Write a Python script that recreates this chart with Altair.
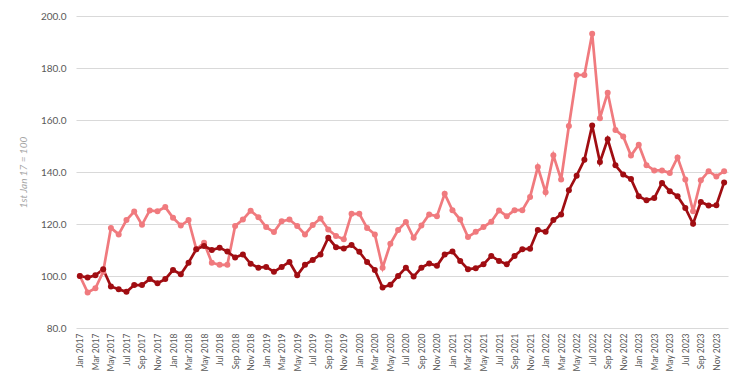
import altair as alt
import pandas as pd

months = [f"{m} {y}" for y in range(2017, 2024)
          for m in ["Jan", "Feb", "Mar", "Apr", "May", "Jun", "Jul", "Aug", "Sep", "Oct", "Nov", "Dec"]]

light = [100.0, 93.7, 95.3, 101.6, 118.5, 116.0, 121.5, 124.8, 119.7, 125.2, 124.9, 126.5,
         122.4, 119.4, 121.5, 110.3, 112.8, 105.1, 104.3, 104.3, 119.2, 121.7, 125.1, 122.6,
         118.8, 116.9, 121.1, 121.7, 119.2, 116.0, 119.6, 122.1, 117.9, 115.4, 114.1, 123.9,
         123.9, 118.5, 116.0, 103.2, 112.4, 117.7, 120.8, 114.7, 119.4, 123.7, 123.0, 131.6,
         125.3, 121.7, 115.0, 117.0, 118.8, 120.9, 125.2, 123.0, 125.3, 125.3, 130.4, 141.9,
         132.2, 146.4, 137.1, 157.7, 177.3, 177.3, 193.2, 160.7, 170.5, 156.2, 153.7, 146.3,
         150.5, 142.6, 140.6, 140.6, 139.6, 145.6, 137.1, 124.9, 136.8, 140.3, 138.3, 140.3]

dark = [100.0, 99.4, 100.3, 102.6, 96.0, 94.9, 93.9, 96.5, 96.5, 98.8, 97.2, 98.8,
        102.3, 100.7, 105.1, 110.3, 111.5, 110.0, 110.9, 109.4, 107.1, 108.3, 104.7, 103.2,
        103.5, 101.6, 103.5, 105.4, 100.3, 104.3, 106.2, 108.3, 114.7, 111.1, 110.6, 111.9,
        109.3, 105.4, 102.3, 95.6, 96.6, 100.0, 103.2, 99.8, 103.2, 104.8, 103.9, 108.3,
        109.4, 105.8, 102.6, 103.0, 104.5, 107.7, 105.8, 104.5, 107.7, 110.3, 110.5, 117.7,
        117.0, 121.5, 123.7, 133.0, 138.6, 144.7, 157.9, 143.8, 152.6, 142.6, 139.0, 137.3,
        130.7, 129.1, 130.0, 135.8, 132.6, 130.7, 126.2, 120.1, 128.5, 127.1, 127.2, 136.0]

series_names = ["Series 1", "Series 2"]
colors = ["#F07A7E", "#A00D12"]
y_ticks = [80, 100, 120, 140, 160, 180, 200]
x_labels = months[::2]

df = pd.concat([
    pd.DataFrame({"month": months, "value": light, "series": series_names[0]}),
    pd.DataFrame({"month": months, "value": dark, "series": series_names[1]}),
])

FONT = "Lato"
GRAY = "#595959"

base = alt.Chart(df).encode(
    x=alt.X("month:O", sort=months,
            scale=alt.Scale(type="point", padding=0.5),
            axis=alt.Axis(title=None, values=x_labels, labelAngle=-90, labelFontSize=8.5,
                          labelColor=GRAY, labelFont=FONT, domain=False, ticks=False,
                          grid=False, labelPadding=5)),
    y=alt.Y("value:Q", scale=alt.Scale(domain=[80, 200], nice=False, zero=False),
            axis=alt.Axis(title="1st Jan 17 = 100", values=y_ticks, format=".1f",
                          labelFontSize=10, labelColor=GRAY, labelFont=FONT,
                          titleFont=FONT, titleFontSize=10, titleFontStyle="italic",
                          titleFontWeight="normal", titleColor="#A6A6A6",
                          titlePadding=12, labelPadding=10,
                          domain=False, ticks=False, gridColor="#D9D9D9", gridWidth=1)),
    color=alt.Color("series:N", scale=alt.Scale(domain=series_names, range=colors), legend=None),
    detail="series:N",
)

lines = base.mark_line(strokeWidth=2.7)
points = base.mark_point(filled=True, size=36, opacity=1)

chart = (lines + points).properties(
    width=652, height=312,
    padding={"left": 10, "top": 3, "right": 5, "bottom": 2},
).configure_view(stroke=None)

chart.save("out.html", embed_options={"renderer": "svg", "actions": False})
